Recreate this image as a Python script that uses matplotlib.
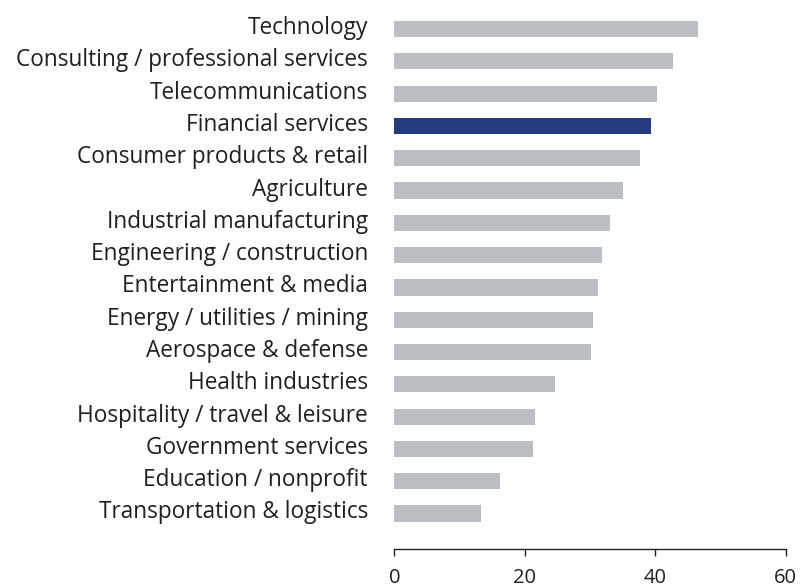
import numpy as np
import matplotlib
matplotlib.use('Agg')
import matplotlib.pyplot as plt
from matplotlib.transforms import ScaledTranslation

plt.rcParams['font.family'] = ['Open Sans', 'DejaVu Sans']

# Industries, top to bottom as shown
industries = [
    'Technology',
    'Consulting / professional services',
    'Telecommunications',
    'Financial services',
    'Consumer products & retail',
    'Agriculture',
    'Industrial manufacturing',
    'Engineering / construction',
    'Entertainment & media',
    'Energy / utilities / mining',
    'Aerospace & defense',
    'Health industries',
    'Hospitality / travel & leisure',
    'Government services',
    'Education / nonprofit',
    'Transportation & logistics',
]
values = [46.5, 42.7, 40.2, 39.4, 37.7, 35.0, 33.1, 31.9, 31.2, 30.5, 30.2,
          24.7, 21.6, 21.3, 16.2, 13.3]
highlight = 'Financial services'

gray = '#bbbec2'
blue = '#263a80'
text_col = '#231f20'

n = len(industries)
y = np.arange(n)[::-1]
colors = [blue if name == highlight else gray for name in industries]

fig = plt.figure(figsize=(8, 5.87), dpi=100)
ax = fig.add_axes([0.4929, 0.0647, 0.4893, 0.9133])

ax.barh(y, values, height=0.5, color=colors)

ax.set_xlim(0, 60)
ax.set_ylim(-1.1, n - 0.5)
ax.set_xticks([0, 20, 40, 60])
ax.set_yticks(y)
ax.set_yticklabels(industries)

for s in ['top', 'right', 'left']:
    ax.spines[s].set_visible(False)
ax.spines['bottom'].set_color(text_col)
ax.spines['bottom'].set_linewidth(1.0)

ax.tick_params(axis='y', length=0, pad=19, labelsize=16.3, labelcolor=text_col)
ax.tick_params(axis='x', length=5, width=1.0, color=text_col, pad=9,
               labelsize=14.5, labelcolor=text_col)

# baseline of each label sits a little below the bar centre
shift = ScaledTranslation(0, -3.6 / 72, fig.dpi_scale_trans)
for lab in ax.get_yticklabels():
    lab.set_va('baseline')
    lab.set_transform(lab.get_transform() + shift)

fig.savefig('out.png', dpi=100)
